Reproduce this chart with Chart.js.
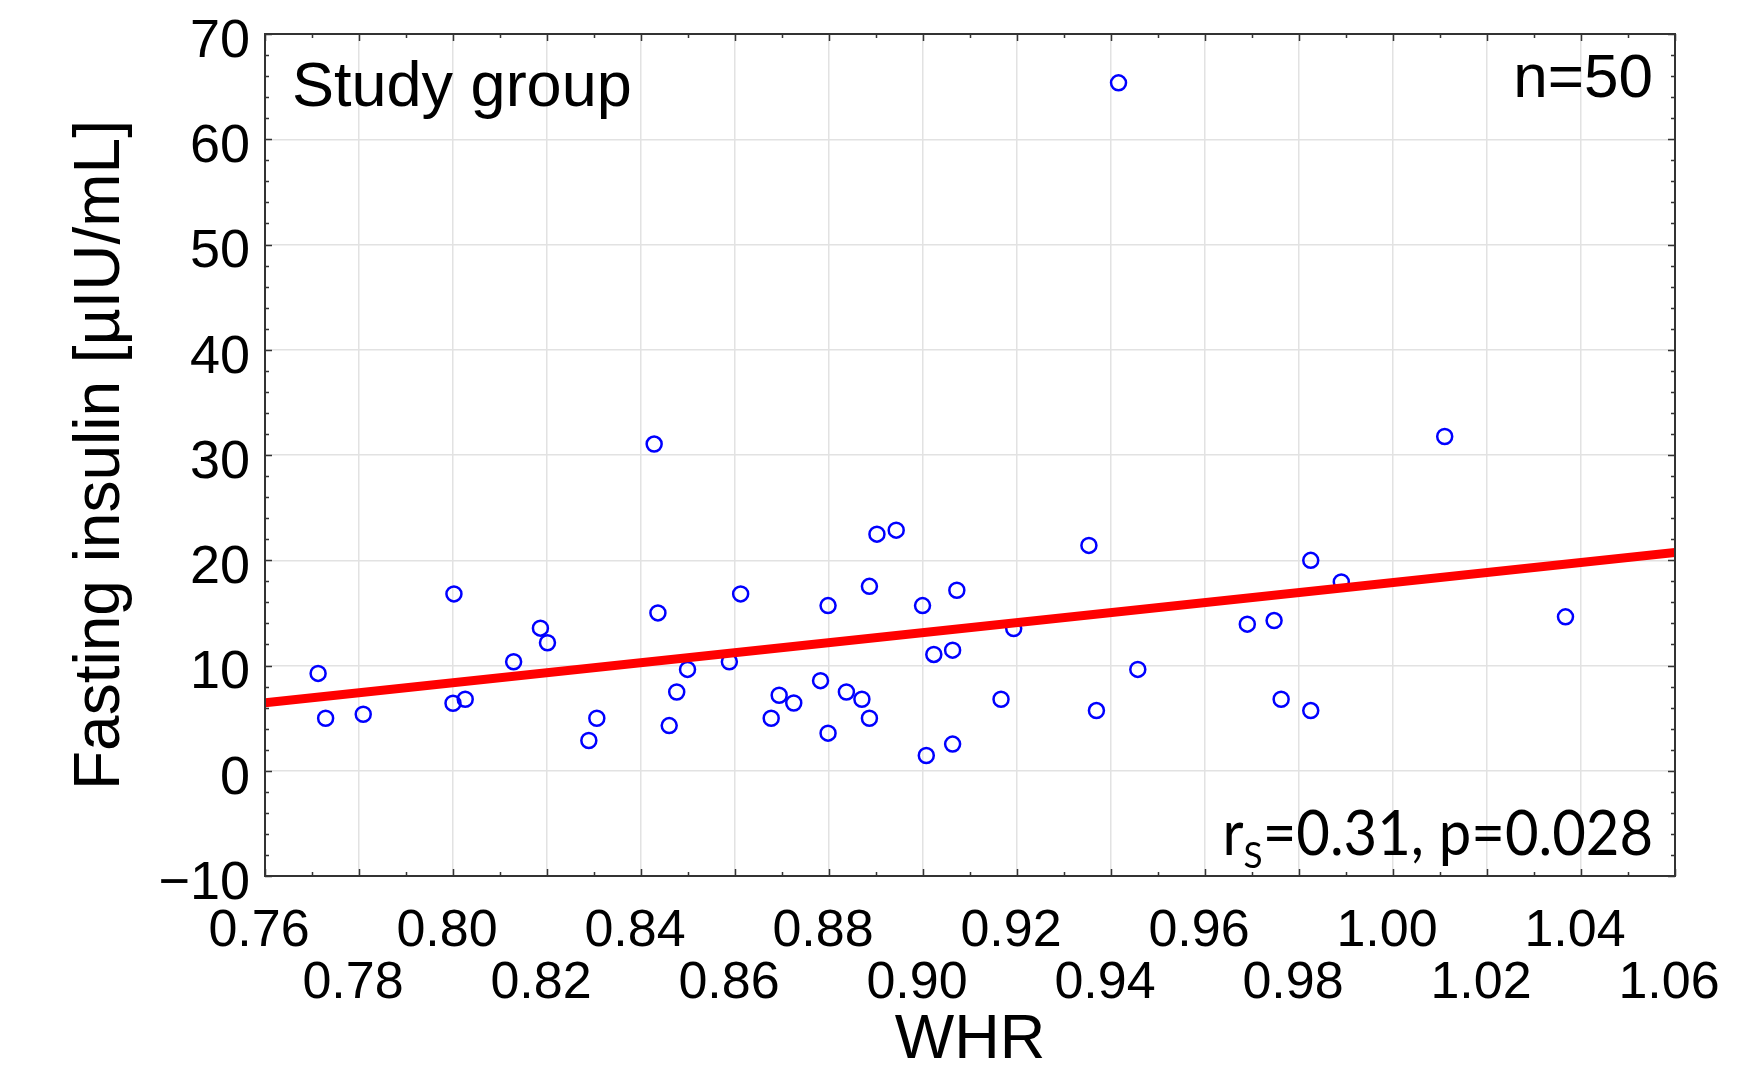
<!DOCTYPE html>
<html>
<head>
<meta charset="utf-8">
<script src="https://cdn.jsdelivr.net/npm/chart.js@4.4.1/dist/chart.umd.min.js"></script>
<style>
  html, body { margin: 0; padding: 0; background: #ffffff; }
  #wrap { width: 1750px; height: 1078px; }
</style>
</head>
<body>
<div id="wrap"><canvas id="c" width="1750" height="1078"></canvas></div>
<script>
// ---- data ----
const whr = [0.7713, 0.7729, 0.7809, 0.8002, 0.8000, 0.8026, 0.8129, 0.8186, 0.8201, 0.8289,
             0.8306, 0.8428, 0.8436, 0.8460, 0.8476, 0.8499, 0.8588, 0.8612, 0.8677, 0.8694,
             0.8725, 0.8782, 0.8798, 0.8798, 0.8837, 0.8870, 0.8886, 0.8886, 0.8902, 0.8943,
             0.8999, 0.9007, 0.9023, 0.9063, 0.9063, 0.9072, 0.9166, 0.9193, 0.9353, 0.9369,
             0.9416, 0.9457, 0.9690, 0.9747, 0.9762, 0.9825, 0.9825, 0.9890, 1.0110, 1.0367];
const insulin = [9.25, 4.99, 5.37, 16.80, 6.41, 6.79, 10.36, 13.55, 12.16, 2.87,
                 4.99, 31.04, 15.00, 4.29, 7.48, 9.63, 10.36, 16.80, 4.99, 7.17,
                 6.44, 8.56, 15.69, 3.57, 7.48, 6.79, 17.52, 4.99, 22.48, 22.86,
                 15.69, 1.45, 11.05, 11.46, 2.53, 17.15, 6.79, 13.51, 21.41, 5.72,
                 65.36, 9.63, 13.93, 14.27, 6.79, 19.99, 5.72, 17.94, 31.76, 14.62];
const fitX = [0.76, 1.06];
const fitY = [6.47, 20.75];
const xTickValues = [0.76, 0.78, 0.80, 0.82, 0.84, 0.86, 0.88, 0.90, 0.92, 0.94, 0.96, 0.98, 1.00, 1.02, 1.04, 1.06];
const xTickLabels = ['0.76', '0.78', '0.80', '0.82', '0.84', '0.86', '0.88', '0.90', '0.92', '0.94', '0.96', '0.98', '1.00', '1.02', '1.04', '1.06'];
const yTickValues = [-10, 0, 10, 20, 30, 40, 50, 60, 70];
const yTickLabels = ['\u221210', '0', '10', '20', '30', '40', '50', '60', '70'];
const xMinorStep = 0.01;
const yMinorStep = 2;
const groupLabel = 'Study group';
const nLabel = 'n=50';
const statMain1 = 'r';
const statSub = 'S';
const statMain2 = '=0.31, p=0.028';
const xTitle = 'WHR';
const yTitle = 'Fasting insulin [\u00b5IU/mL]';

// ---- chart ----
const scatterData = whr.map((x, i) => ({ x: x, y: insulin[i] }));
const fitData = fitX.map((x, i) => ({ x: x, y: fitY[i] }));
const AXIS_COLOR = '#333333';
const SANS = '"Liberation Sans", Arial, sans-serif';

const framePlugin = {
  id: 'frame',
  afterDatasetsDraw(chart) {
    const ctx = chart.ctx;
    const a = chart.chartArea;
    const xs = chart.scales.x, ys = chart.scales.y;
    ctx.save();
    ctx.strokeStyle = AXIS_COLOR;
    ctx.lineWidth = 1.5;
    ctx.beginPath();
    const nx = Math.round((xs.max - xs.min) / xMinorStep);
    for (let i = 0; i <= nx; i++) {
      const v = xs.min + i * xMinorStep;
      const px = Math.round(xs.getPixelForValue(v)) + 0.5;
      const len = (i % 2 === 0) ? 7 : 4;
      ctx.moveTo(px, a.bottom); ctx.lineTo(px, a.bottom - len);
      ctx.moveTo(px, a.top); ctx.lineTo(px, a.top + len);
    }
    const ny = Math.round((ys.max - ys.min) / yMinorStep);
    for (let i = 0; i <= ny; i++) {
      const v = ys.min + i * yMinorStep;
      const py = Math.round(ys.getPixelForValue(v)) + 0.5;
      const len = (i % 5 === 0) ? 7 : 4;
      ctx.moveTo(a.left, py); ctx.lineTo(a.left + len, py);
      ctx.moveTo(a.right, py); ctx.lineTo(a.right - len, py);
    }
    ctx.stroke();
    ctx.lineWidth = 2;
    ctx.strokeRect(a.left, a.top, a.right - a.left, a.bottom - a.top);

    // annotations
    ctx.fillStyle = '#000000';
    ctx.textBaseline = 'alphabetic';
    ctx.font = '63px ' + SANS;
    ctx.textAlign = 'left';
    ctx.fillText(groupLabel, a.left + 27, 106);
    ctx.font = '62px ' + SANS;
    ctx.textAlign = 'right';
    ctx.fillText(nLabel, a.right - 22, 97);

    const mainFont = '61px Lato, "Open Sans", sans-serif';
    const subFont = '37px Lato, "Open Sans", sans-serif';
    const sx = 0.95;
    ctx.font = mainFont;
    const w1 = ctx.measureText(statMain1).width;
    const w3 = ctx.measureText(statMain2).width;
    ctx.font = subFont;
    const w2 = ctx.measureText(statSub).width;
    const right = a.right - 22;
    const total = (w1 + w2 + w3) * sx;
    const base = 855;
    ctx.translate(right - total, base);
    ctx.scale(sx, 1);
    ctx.textAlign = 'left';
    ctx.font = mainFont;
    ctx.fillText(statMain1, 0, 0);
    ctx.font = subFont;
    ctx.fillText(statSub, w1, 13);
    ctx.font = mainFont;
    ctx.fillText(statMain2, w1 + w2, 0);
    ctx.restore();
  }
};

new Chart(document.getElementById('c'), {
  type: 'scatter',
  data: {
    datasets: [
      {
        type: 'line',
        label: 'fit',
        data: fitData,
        borderColor: '#ff0000',
        borderWidth: 9,
        pointRadius: 0,
        fill: false,
        tension: 0,
        order: 0
      },
      {
        type: 'scatter',
        label: 'points',
        data: scatterData,
        pointStyle: 'circle',
        pointRadius: 7.5,
        pointBorderWidth: 2.5,
        borderColor: '#0000ff',
        backgroundColor: 'rgba(0,0,0,0)',
        order: 1
      }
    ]
  },
  options: {
    responsive: false,
    devicePixelRatio: 1,
    animation: false,
    layout: { padding: { left: 0, top: 34, right: 75, bottom: 0 } },
    plugins: { legend: { display: false }, tooltip: { enabled: false } },
    scales: {
      x: {
        type: 'linear',
        position: 'bottom',
        min: 0.76,
        max: 1.06,
        afterBuildTicks: (s) => { s.ticks = xTickValues.map(v => ({ value: v })); },
        afterFit: (s) => { s.height = 202; s.paddingLeft = 0; s.paddingRight = 0; },
        ticks: {
          autoSkip: false,
          maxRotation: 0,
          minRotation: 0,
          padding: 30,
          labelOffset: -6,
          color: '#000000',
          font: { family: SANS, size: 52, lineHeight: 1.0 },
          callback: function (v, i) {
            const lbl = xTickLabels[i];
            return (i % 2 === 0) ? lbl : ['', lbl];
          }
        },
        grid: { color: '#e2e2e2', lineWidth: 1.5, drawTicks: false },
        border: { display: true, color: AXIS_COLOR, width: 2 },
        title: {
          display: true,
          text: xTitle,
          color: '#000000',
          font: { family: SANS, size: 63 },
          padding: { top: 0, bottom: 0 }
        }
      },
      y: {
        type: 'linear',
        position: 'left',
        min: -10,
        max: 70,
        afterBuildTicks: (s) => { s.ticks = yTickValues.map(v => ({ value: v })); },
        afterFit: (s) => { s.width = 265; s.paddingTop = 0; s.paddingBottom = 0; },
        ticks: {
          autoSkip: false,
          padding: 15,
          labelOffset: 8,
          color: '#000000',
          font: { family: SANS, size: 54 },
          callback: function (v, i) { return yTickLabels[i]; }
        },
        grid: { color: '#e2e2e2', lineWidth: 1.5, drawTicks: false },
        border: { display: true, color: AXIS_COLOR, width: 2 },
        title: {
          display: true,
          text: yTitle,
          color: '#000000',
          font: { family: SANS, size: 64 },
          padding: { top: 63, bottom: 0 }
        }
      }
    }
  },
  plugins: [framePlugin]
});
</script>
</body>
</html>
